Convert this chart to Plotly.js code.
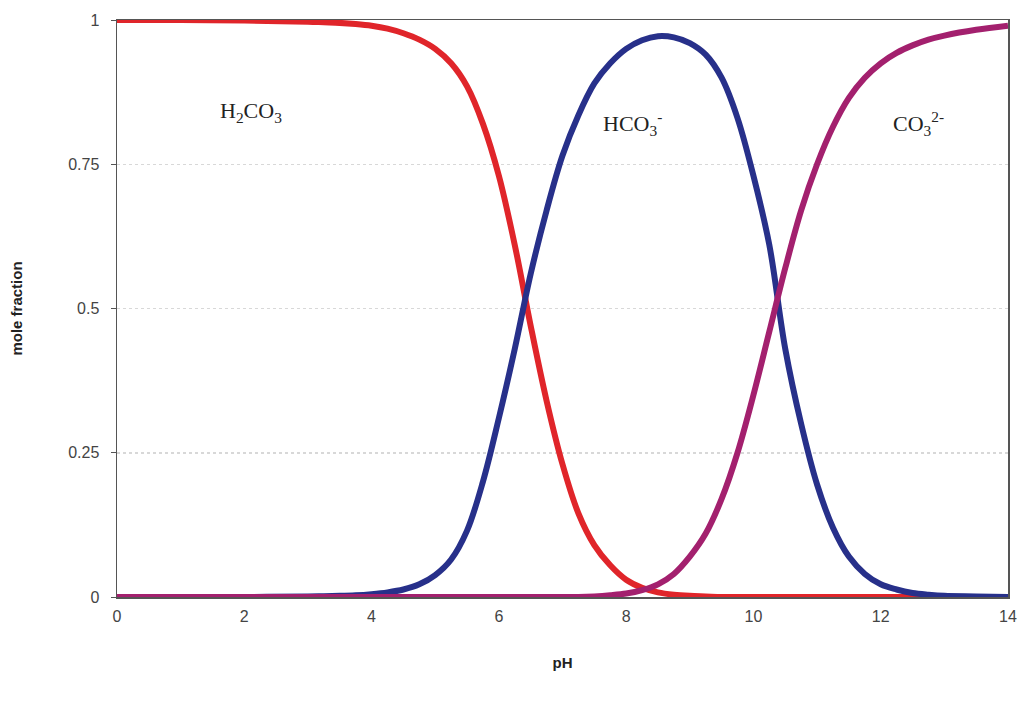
<!DOCTYPE html>
<html><head><meta charset="utf-8">
<script src="https://cdn.plot.ly/plotly-3.0.1.min.js"></script>
<style>body{margin:0;background:#fff}#chart{width:1025px;height:704px}</style>
</head><body><div id="chart"></div>
<script>
const pH    = [0,1,2,3,3.25,3.5,3.75,4,4.25,4.5,4.75,5,5.25,5.5,5.75,6,6.25,6.5,6.75,7,7.25,7.5,7.75,8,8.25,8.5,8.75,9,9.25,9.5,9.75,10,10.25,10.5,10.75,11,11.25,11.5,11.75,12,12.25,12.5,12.75,13,13.5,14];
const h2co3 = [1,1,0.999,0.997,0.996,0.995,0.993,0.99,0.985,0.977,0.966,0.95,0.925,0.885,0.82,0.73,0.61,0.47,0.34,0.23,0.145,0.09,0.055,0.03,0.016,0.008,0.004,0.002,0.001,0,0,0,0,0,0,0,0,0,0,0,0,0,0,0,0,0];
const hco3  = [0,0,0,0.001,0.0015,0.002,0.003,0.005,0.008,0.013,0.022,0.038,0.065,0.115,0.2,0.31,0.43,0.56,0.67,0.765,0.835,0.89,0.925,0.95,0.965,0.972,0.97,0.96,0.94,0.9,0.83,0.73,0.61,0.43,0.3,0.195,0.12,0.07,0.04,0.022,0.013,0.007,0.004,0.002,0.001,0];
const co3   = [0,0,0,0,0,0,0,0,0,0,0,0,0,0,0,0,0,0,0,0,0,0.001,0.003,0.006,0.012,0.022,0.04,0.07,0.11,0.17,0.25,0.35,0.46,0.57,0.67,0.75,0.815,0.865,0.9,0.925,0.943,0.956,0.966,0.973,0.983,0.99];
const xTicks = [0,2,4,6,8,10,12,14];
const yTicks = [0,0.25,0.5,0.75,1];
const yTickText = ['0','0.25','0.5','0.75','1'];
const labels = ['H<sub>2</sub>CO<sub>3</sub>','HCO<sub>3</sub><sup>-</sup>','CO<sub>3</sub><sup>2-</sup>'];
const labelX = [2.1,8.1,12.6];
const labelY = [0.84,0.82,0.82];

const line = (c)=>({color:c,width:6,shape:'spline',smoothing:1});
const traces = [
  {x:pH,y:h2co3,mode:'lines',line:line('#e0252a'),hoverinfo:'skip'},
  {x:pH,y:hco3,mode:'lines',line:line('#27308a'),hoverinfo:'skip'},
  {x:pH,y:co3,mode:'lines',line:line('#a3206e'),hoverinfo:'skip'}
];
const layout = {
  width:1025,height:704,
  margin:{l:117,r:17,t:20,b:107},
  paper_bgcolor:'#fff',plot_bgcolor:'#fff',
  showlegend:false,
  font:{family:'Liberation Sans, Arial, sans-serif',size:14,color:'#333'},
  xaxis:{range:[0,14],tickvals:xTicks,ticktext:xTicks.map(String),showgrid:false,zeroline:false,
    showline:true,mirror:true,linecolor:'#555',linewidth:1.5,ticks:'',ticklabelstandoff:4,
    tickfont:{size:16,color:'#444'},
    title:{text:'<b>pH</b>',font:{size:15,color:'#222'},standoff:34}},
  yaxis:{range:[0,1],tickvals:yTicks,ticktext:yTickText,showgrid:true,gridcolor:'#d8d8d8',griddash:'dot',gridwidth:1.5,
    zeroline:false,showline:true,mirror:true,linecolor:'#555',linewidth:1.5,ticks:'outside',ticklen:5,tickcolor:'#555',
    ticklabelstandoff:8,tickfont:{size:16,color:'#444'},
    title:{text:'<b>mole fraction</b>',font:{size:15,color:'#222'},standoff:42}},
  annotations: labels.map((t,i)=>({x:labelX[i],y:labelY[i],xref:'x',yref:'y',text:t,showarrow:false,
    font:{family:'Liberation Serif, Times New Roman, serif',size:22,color:'#222'}}))
};
Plotly.newPlot('chart',traces,layout,{staticPlot:true});
</script></body></html>
